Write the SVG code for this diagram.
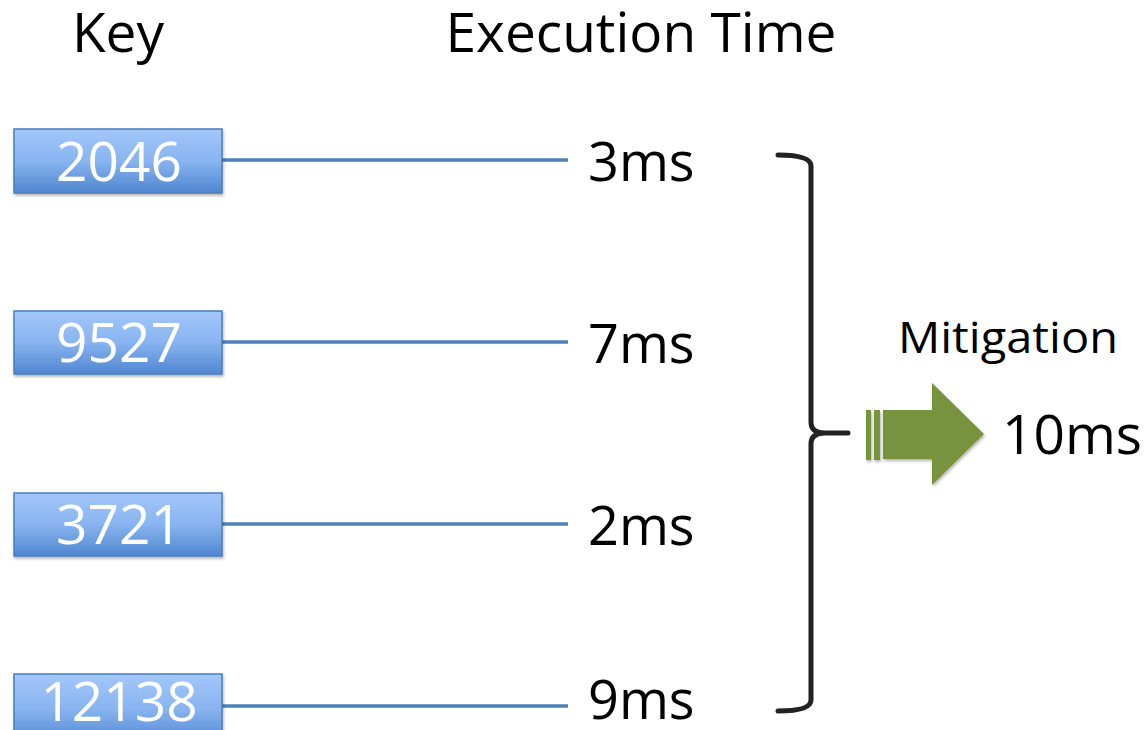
<svg xmlns="http://www.w3.org/2000/svg" width="1146" height="730" viewBox="0 0 1146 730">
<defs>
<linearGradient id="bg" x1="0" y1="0" x2="0" y2="1">
<stop offset="0" stop-color="#A3C7FA"/>
<stop offset="0.5" stop-color="#88B4F0"/>
<stop offset="1" stop-color="#4F86D0"/>
</linearGradient>
<filter id="sh" x="-10%" y="-10%" width="130%" height="140%">
<feDropShadow dx="1" dy="2" stdDeviation="1.5" flood-color="#000" flood-opacity="0.3"/>
</filter>
</defs>
<style>
.box{fill:url(#bg);stroke:#4A7EBB;stroke-width:1.5;filter:url(#sh)}
.bt{font-family:"Open Sans","Noto Sans",sans-serif;font-size:55px;fill:#fff;text-anchor:middle}
.t{font-family:"Open Sans","Noto Sans",sans-serif;font-size:54px;fill:#000}
.ln{stroke:#4F81BD;stroke-width:3.5;fill:none}
</style>
<rect width="1146" height="730" fill="#fff"/>
<text class="t" x="118" y="52" text-anchor="middle" style="font-size:55px">Key</text>
<text class="t" x="641" y="52" text-anchor="middle" style="font-size:55px">Execution Time</text>
<g id="connectors">
<line class="ln" x1="222" y1="160" x2="568" y2="160"/>
<line class="ln" x1="222" y1="342" x2="568" y2="342"/>
<line class="ln" x1="222" y1="524" x2="568" y2="524"/>
<line class="ln" x1="222" y1="706" x2="568" y2="706"/>
</g>
<g id="k2046"><rect class="box" x="14" y="129" width="208" height="64"/><text class="bt" x="119" y="181">2046</text></g>
<g id="k9527"><rect class="box" x="14" y="311" width="208" height="63"/><text class="bt" x="119" y="362">9527</text></g>
<g id="k3721"><rect class="box" x="14" y="493" width="208" height="63"/><text class="bt" x="119" y="544">3721</text></g>
<g id="k12138"><rect class="box" x="14" y="674" width="208" height="70"/><text class="bt" x="119" y="721">12138</text></g>
<g id="t3"><text class="t" x="588" y="181">3ms</text></g>
<g id="t7"><text class="t" x="588" y="363">7ms</text></g>
<g id="t2"><text class="t" x="588" y="545">2ms</text></g>
<g id="t9"><text class="t" x="588" y="719">9ms</text></g>
<g id="brace">
<path d="M778,155 Q811,155 811,166 L811,422 Q811,433 825,433 L848,433 M825,433 Q811,433 811,444 L811,700 Q811,711 778,711" fill="none" stroke="#222" stroke-width="5" stroke-linecap="round" stroke-linejoin="round"/>
</g>
<g id="mitigation">
<text class="t" x="898" y="353" style="font-size:44px" textLength="220" lengthAdjust="spacingAndGlyphs">Mitigation</text>
<g fill="#77933C" filter="url(#sh)">
<rect x="866" y="410" width="5" height="50"/>
<rect x="874" y="410" width="6" height="50"/>
<path d="M883,410 L932,410 L932,383 L984,434 L932,485 L932,459 L883,459 Z"/>
</g>
<text class="t" x="1002" y="454" style="font-size:55px">10ms</text>
</g>
</svg>
